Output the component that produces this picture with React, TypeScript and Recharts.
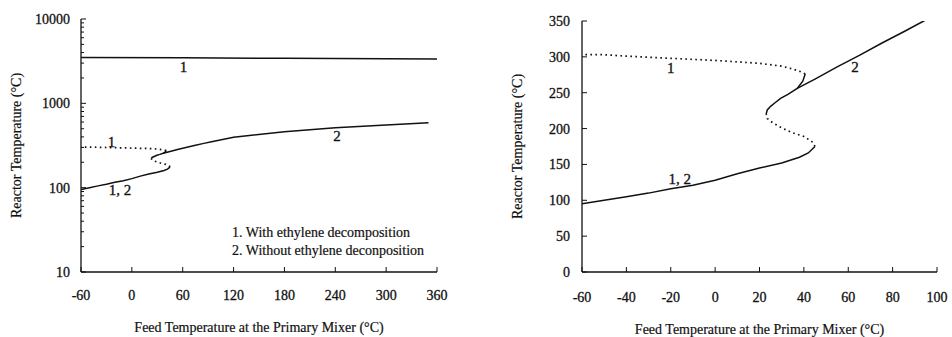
import { Legend, Line, LineChart, ReferenceDot, XAxis, YAxis } from "recharts";

type Pt = { x: number; y: number };

// stable lower branch (same for both cases)
const lowerX = [-60, -50, -40, -30, -20, -10, 0, 10, 20, 30, 38, 42, 45];
const lowerY = [95, 100, 105, 110, 116, 121, 128, 137, 145, 152, 160, 166, 175];

// unstable middle branch (dotted)
const middleX = [45, 44, 40, 35, 30, 26, 23.5, 23];
const middleY = [175, 181, 189, 194, 201, 208, 214, 220];

// upper branch with ethylene decomposition, up to the second fold
const hookX = [23, 23.5, 25, 27, 29.5, 33, 37, 39.5, 40.6];
const hookY = [220, 226, 231, 236, 242, 248, 256, 266, 276];

// unstable branch of case 1 going back to the left (dotted)
const topDotX = [40.6, 38, 35, 30, 20, 0, -20, -40, -50, -60];
const topDotY = [276, 280, 283, 287, 291, 295, 298, 301, 303, 303];

// high temperature branch of case 1 (decomposition runaway)
const highX = [-60, 60, 180, 300, 360];
const highY = [3500, 3460, 3420, 3370, 3350];

// upper branch without ethylene decomposition
const upper2X = [37, 45, 55, 65, 75, 85, 94, 120, 180, 240, 300, 350];
const upper2Y = [256, 269, 286, 302, 319, 335, 350, 395, 461, 514, 553, 590];

const leftXTicks = [-60, 0, 60, 120, 180, 240, 300, 360];
const leftYMajor = [10, 100, 1000, 10000];
const rightXTicks = [-60, -40, -20, 0, 20, 40, 60, 80, 100];
const rightYTicks = [0, 50, 100, 150, 200, 250, 300, 350];

const leftNotes = [
  { x: 61, y: 2700, text: "1" },
  { x: -24, y: 350, text: "1" },
  { x: -14, y: 94, text: "1, 2" },
  { x: 242, y: 410, text: "2" },
];
const rightNotes = [
  { x: -20, y: 285, text: "1" },
  { x: 63, y: 286, text: "2" },
  { x: -16, y: 130, text: "1, 2" },
];

const legendItems = ["1. With ethylene decomposition", "2. Without ethylene deconposition"];

const toPoints = (xs: number[], ys: number[]): Pt[] => xs.map((x, i) => ({ x, y: ys[i] }));

const lower = toPoints(lowerX, lowerY);
const middle = toPoints(middleX, middleY);
const hook = toPoints(hookX, hookY);
const topDot = toPoints(topDotX, topDotY);
const high = toPoints(highX, highY);
const upper2 = toPoints(upper2X, upper2Y);

// log axis ticks: decades labelled, 2..9 as minor marks
const leftYTicks = leftYMajor.flatMap((d, i) =>
  i === leftYMajor.length - 1 ? [d] : [1, 2, 3, 4, 5, 6, 7, 8, 9].map((k) => d * k)
);

const FONT = "'Liberation Serif', 'Times New Roman', serif";
const INK = "#111";
const TICK_FONT = 14;
// scanned print looks heavier than plain Times
const heavy = { stroke: INK, strokeWidth: 0.3 };

const isMajor = (v: number, majors?: number[]) => !majors || majors.includes(v);

function BottomTick(props: any) {
  const { x, y, payload, majors, labelDy } = props;
  const major = isMajor(payload.value, majors);
  return (
    <g>
      <line x1={x} x2={x} y1={y} y2={y - (major ? 5 : 3)} stroke={INK} />
      {major && (
        <text x={x} y={y + labelDy} textAnchor="middle" fontSize={TICK_FONT} fontFamily={FONT} fill={INK} {...heavy}>
          {payload.value}
        </text>
      )}
    </g>
  );
}

function TopTick(props: any) {
  const { x, y, payload, majors } = props;
  const major = isMajor(payload.value, majors);
  return <line x1={x} x2={x} y1={y} y2={y + (major ? 5 : 3)} stroke={INK} />;
}

function LeftTick(props: any) {
  const { x, y, payload, majors, gap } = props;
  const major = isMajor(payload.value, majors);
  return (
    <g>
      <line x1={x} x2={x + (major ? 5 : 3)} y1={y} y2={y} stroke={INK} />
      {major && (
        <text x={x - gap} y={y + 5} textAnchor="end" fontSize={TICK_FONT} fontFamily={FONT} fill={INK} {...heavy}>
          {payload.value}
        </text>
      )}
    </g>
  );
}

function RightTick(props: any) {
  const { x, y, payload, majors } = props;
  const major = isMajor(payload.value, majors);
  return <line x1={x} x2={x - (major ? 5 : 3)} y1={y} y2={y} stroke={INK} />;
}

const axisLine = { stroke: INK, strokeWidth: 1.3 };
const solid = { stroke: INK, strokeWidth: 1.5, dot: false, isAnimationActive: false, type: "linear" as const };
const dotted = { ...solid, strokeWidth: 1.7, strokeDasharray: "1.6 3.4" };
const titleStyle = { fontSize: 14, fontFamily: FONT, fill: INK, stroke: INK, strokeWidth: 0.2 };

function Notes({ notes }: { notes: { x: number; y: number; text: string }[] }) {
  return (
    <>
      {notes.map((n) => (
        <ReferenceDot
          key={n.text + n.x}
          x={n.x}
          y={n.y}
          r={0}
          fill="none"
          stroke="none"
          label={{ value: n.text, position: "center", fill: INK, fontSize: 15, fontFamily: FONT, ...heavy }}
        />
      ))}
    </>
  );
}

function LegendBox() {
  return (
    <div
      style={{
        fontFamily: FONT,
        fontSize: 14,
        color: INK,
        lineHeight: "18.4px",
        whiteSpace: "nowrap",
        WebkitTextStroke: "0.2px #111",
      }}
    >
      {legendItems.map((t) => (
        <div key={t}>{t}</div>
      ))}
    </div>
  );
}

function LogChart() {
  return (
    <LineChart width={476} height={337} margin={{ top: 19, right: 39, bottom: 0, left: 0 }}>
      <XAxis
        dataKey="x"
        type="number"
        domain={[-60, 360]}
        ticks={leftXTicks}
        interval={0}
        allowDataOverflow
        height={65}
        tickSize={0}
        tickMargin={0}
        axisLine={axisLine}
        tickLine={false}
        tick={(p: any) => <BottomTick {...p} labelDy={28} />}
        label={{ value: "Feed Temperature at the Primary Mixer (°C)", position: "insideBottom", offset: 5, style: titleStyle }}
      />
      <XAxis
        xAxisId="t"
        orientation="top"
        dataKey="x"
        type="number"
        domain={[-60, 360]}
        ticks={leftXTicks}
        interval={0}
        height={0}
        tickSize={0}
        tickMargin={0}
        axisLine={axisLine}
        tickLine={false}
        tick={(p: any) => <TopTick {...p} />}
      />
      <YAxis
        dataKey="y"
        type="number"
        scale="log"
        domain={[10, 10000]}
        ticks={leftYTicks}
        interval={0}
        allowDataOverflow
        width={81}
        tickSize={0}
        tickMargin={0}
        axisLine={axisLine}
        tickLine={false}
        tick={(p: any) => <LeftTick {...p} majors={leftYMajor} gap={11} />}
        label={{
          value: "Reactor Temperature (°C)",
          angle: -90,
          position: "insideLeft",
          offset: 16,
          style: { ...titleStyle, textAnchor: "middle" },
        }}
      />
      <YAxis
        yAxisId="r"
        orientation="right"
        type="number"
        scale="log"
        domain={[10, 10000]}
        ticks={leftYTicks}
        interval={0}
        width={0}
        tickSize={0}
        tickMargin={0}
        axisLine={axisLine}
        tickLine={false}
        tick={(p: any) => <RightTick {...p} majors={leftYMajor} />}
      />
      <Line data={lower} dataKey="y" {...solid} />
      <Line data={middle} dataKey="y" {...dotted} />
      <Line data={hook} dataKey="y" {...solid} />
      <Line data={topDot} dataKey="y" {...dotted} />
      <Line data={upper2} dataKey="y" {...solid} />
      <Line data={high} dataKey="y" {...solid} />
      <Notes notes={leftNotes} />
      <Legend
        layout="horizontal"
        verticalAlign="middle"
        align="center"
        content={() => <LegendBox />}
        wrapperStyle={{ left: 232, top: 224, width: 200, height: 40 }}
      />
    </LineChart>
  );
}

function LinearChart() {
  return (
    <LineChart width={476} height={337} margin={{ top: 21, right: 15, bottom: 0, left: 0 }}>
      <XAxis
        dataKey="x"
        type="number"
        domain={[-60, 100]}
        ticks={rightXTicks}
        interval={0}
        allowDataOverflow
        height={65}
        tickSize={0}
        tickMargin={0}
        axisLine={axisLine}
        tickLine={false}
        tick={(p: any) => <BottomTick {...p} labelDy={30} />}
        label={{ value: "Feed Temperature at the Primary Mixer (°C)", position: "insideBottom", offset: 3, style: titleStyle }}
      />
      <XAxis
        xAxisId="t"
        orientation="top"
        dataKey="x"
        type="number"
        domain={[-60, 100]}
        ticks={rightXTicks}
        interval={0}
        height={0}
        tickSize={0}
        tickMargin={0}
        axisLine={axisLine}
        tickLine={false}
        tick={(p: any) => <TopTick {...p} />}
      />
      <YAxis
        dataKey="y"
        type="number"
        domain={[0, 350]}
        ticks={rightYTicks}
        interval={0}
        allowDataOverflow
        width={106}
        tickSize={0}
        tickMargin={0}
        axisLine={axisLine}
        tickLine={false}
        tick={(p: any) => <LeftTick {...p} gap={12} />}
        label={{
          value: "Reactor Temperature (°C)",
          angle: -90,
          position: "insideLeft",
          offset: 41,
          style: { ...titleStyle, textAnchor: "middle" },
        }}
      />
      <YAxis
        yAxisId="r"
        orientation="right"
        type="number"
        domain={[0, 350]}
        ticks={rightYTicks}
        interval={0}
        width={0}
        tickSize={0}
        tickMargin={0}
        axisLine={axisLine}
        tickLine={false}
        tick={(p: any) => <RightTick {...p} />}
      />
      <Line data={lower} dataKey="y" {...solid} />
      <Line data={middle} dataKey="y" {...dotted} />
      <Line data={hook} dataKey="y" {...solid} />
      <Line data={topDot} dataKey="y" {...dotted} />
      <Line data={upper2} dataKey="y" {...solid} />
      <Notes notes={rightNotes} />
    </LineChart>
  );
}

export default function App() {
  return (
    <div style={{ position: "absolute", left: 0, top: 0, width: 952, height: 337, background: "#fff" }}>
      <div style={{ position: "absolute", left: 0, top: 0 }}>
        <LogChart />
      </div>
      <div style={{ position: "absolute", left: 476, top: 0 }}>
        <LinearChart />
      </div>
    </div>
  );
}
